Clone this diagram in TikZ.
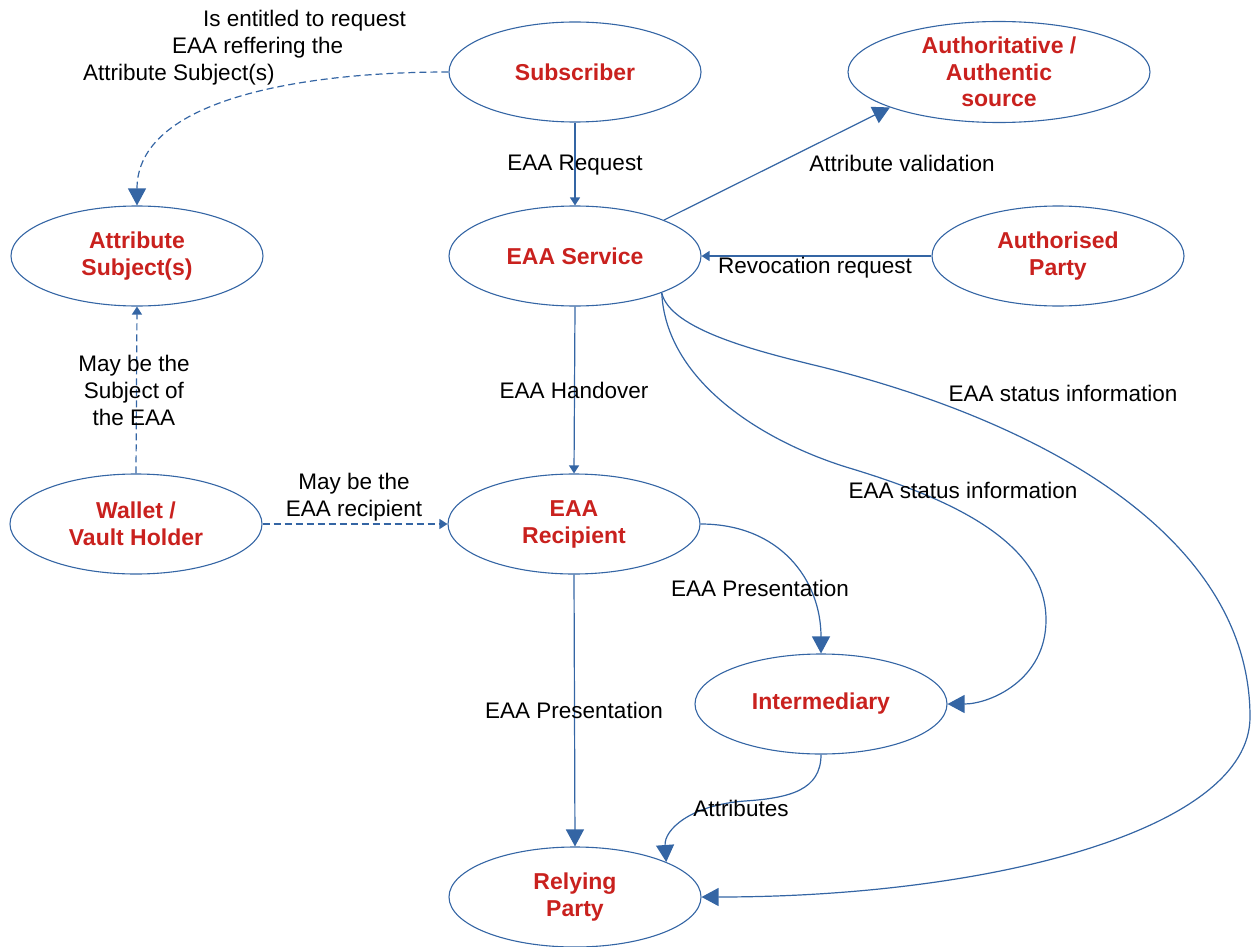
\documentclass[tikz,border=0pt]{standalone}
\usepackage{fontspec}
\setmainfont{Liberation Sans}
\usetikzlibrary{shapes.geometric,arrows.meta}
\definecolor{edgeblue}{HTML}{3465A4}
\definecolor{actorred}{HTML}{C9211E}

\begin{document}
\begin{tikzpicture}[x=1pt,y=-1pt,
  actor/.style={ellipse, draw=edgeblue, line width=1.1pt, minimum width=252pt,
    minimum height=100pt, inner sep=0pt, align=center, text=actorred,
    font=\fontsize{23}{27}\selectfont\bfseries},
  lbl/.style={inner sep=0pt, align=center, text=black,
    font=\fontsize{22.5}{27}\selectfont},
  flow/.style={draw=edgeblue, line width=1.2pt},
  bigtip/.style={-{Triangle[length=17pt,width=18pt]}},
  smalltip/.style={-{Triangle[length=8pt,width=10pt]}},
  optional/.style={dash pattern=on 7pt off 4pt}
]
\useasboundingbox (0,0) rectangle (1252,947);

% actors
\node[actor] (sub) at (575,72) {Subscriber};
\node[actor, minimum width=302pt, minimum height=101pt,
  font=\fontsize{23}{26.5}\selectfont\bfseries] (auth) at (999,72)
  {Authoritative /\\Authentic\\source};
\node[actor] (as) at (137,256) {Attribute\\Subject(s)};
\node[actor] (svc) at (575,256) {EAA Service};
\node[actor] (ap) at (1058,256) {Authorised\\Party};
\node[actor] (wal) at (136,524) {Wallet /\\Vault Holder};
\node[actor] (rec) at (574,524) {EAA\\Recipient};
\node[actor] (int) at (821,704) {Intermediary};
\node[actor] (rp) at (575,897) {Relying\\Party};

% flows
\draw[flow,smalltip] (sub.south) -- (svc.north);
\draw[flow,bigtip] (svc.22) -- (auth.198);
\draw[flow,smalltip] (ap.west) -- (svc.east);
\draw[flow,smalltip] (svc.south) -- (rec.north);
\draw[flow,smalltip,optional] (wal.north) -- (as.south);
\draw[flow,smalltip,optional] (wal.east) -- (rec.west);
\draw[flow,bigtip,optional] (sub.west) .. controls (300,72) and (137,100) .. (as.north);
\draw[flow,bigtip] (rec.south) -- (rp.north);
\draw[flow,bigtip] (rec.east) .. controls (780,524) and (821,580) .. (int.north);
\draw[flow,bigtip] (svc.-23) .. controls (666,380) and (760,440) .. (846,467)
  .. controls (946,497) and (1046,540) .. (1046,620)
  .. controls (1046,680) and (990,704) .. (int.east);
\draw[flow,bigtip] (svc.-23) .. controls (670,330) and (760,352) .. (822,367)
  .. controls (1050,424) and (1250,540) .. (1250,717)
  .. controls (1250,830) and (990,897) .. (rp.east);
\draw[flow,bigtip] (int.south) .. controls (821,790) and (790,798) .. (745,801)
  .. controls (690,805) and (664,830) .. (rp.21.5);

% flow labels
\node[lbl, align=left, anchor=west] (lent) at (83,48)
  {\hspace*{120pt}Is entitled to request\\\hspace*{89pt}EAA reffering the\\Attribute Subject(s)};
\node[lbl] (lreq) at (575,165) {EAA Request};
\node[lbl] (lval) at (902,163) {Attribute validation};
\node[lbl] (lrev) at (815,268) {Revocation request};
\node[lbl] (lhand) at (574,390) {EAA Handover};
\node[lbl] (lsubj) at (134,390) {May be the\\Subject of\\the EAA};
\node[lbl] (lrecp) at (354,497) {May be the\\EAA recipient};
\node[lbl] (lstat1) at (1063,393) {EAA status information};
\node[lbl] (lstat2) at (963,490) {EAA status information};
\node[lbl] (lpres1) at (760,588) {EAA Presentation};
\node[lbl] (lpres2) at (574,710) {EAA Presentation};
\node[lbl] (lattr) at (741,808) {Attributes};
\end{tikzpicture}
\end{document}
